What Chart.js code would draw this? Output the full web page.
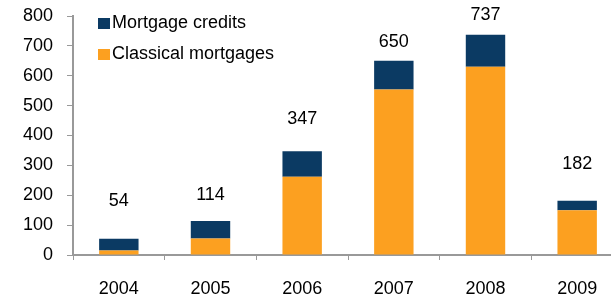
<!DOCTYPE html>
<html>
<head>
<meta charset="utf-8">
<script src="https://cdn.jsdelivr.net/npm/chart.js@4"></script>
<style>
  html, body { margin: 0; padding: 0; background: #fff; overflow: hidden; }
  #wrap { width: 640px; height: 297px; }
</style>
</head>
<body>
<div id="wrap"><canvas id="Volume" width="640" height="297"></canvas></div>
<script>
// data
var years = ['2004', '2005', '2006', '2007', '2008', '2009'];
var classical = [15, 55, 262, 554, 630, 150];
var credits = [39, 59, 85, 96, 107, 32];
var totals = [54, 114, 347, 650, 737, 182];
var yTicks = [0, 100, 200, 300, 400, 500, 600, 700, 800];

var navy = '#0b3a63';
var orange = '#fca020';
var axisGrey = '#999999';
var FONT = '"Liberation Sans", Arial, sans-serif';

// totals over the bars, lifted by hand like in the source
var totalLabels = {
    id: 'totalLabels',
    afterDatasetsDraw: function (chart, args, opts) {
        var ctx = chart.ctx;
        var meta = chart.getDatasetMeta(1);
        ctx.save();
        ctx.font = '18px ' + FONT;
        ctx.fillStyle = '#000';
        ctx.textAlign = 'center';
        ctx.textBaseline = 'middle';
        meta.data.forEach(function (bar, i) {
            ctx.fillText(String(totals[i]), bar.x, bar.y - opts.lift[i]);
        });
        ctx.restore();
    }
};

// legend in the top-left corner of the plot
var cornerLegend = {
    id: 'cornerLegend',
    afterDraw: function (chart) {
        var ctx = chart.ctx;
        var items = [
            { text: 'Mortgage credits', color: navy, y: 23 },
            { text: 'Classical mortgages', color: orange, y: 54 }
        ];
        ctx.save();
        ctx.font = '18px ' + FONT;
        ctx.textBaseline = 'middle';
        items.forEach(function (it) {
            ctx.fillStyle = it.color;
            ctx.fillRect(98, it.y - 5, 12, 11);
            ctx.fillStyle = '#000';
            ctx.fillText(it.text, 112, it.y);
        });
        ctx.restore();
    }
};

var ctx = document.getElementById('Volume').getContext('2d');
var chart = new Chart(ctx, {
    type: 'bar',
    data: {
        labels: years,
        datasets: [{
            label: 'Classical mortgages',
            data: classical,
            backgroundColor: orange
        }, {
            label: 'Mortgage credits',
            data: credits,
            backgroundColor: navy
        }]
    },
    options: {
        responsive: false,
        animation: false,
        maintainAspectRatio: false,
        barPercentage: 0.43,
        categoryPercentage: 1,
        layout: { padding: { top: 16, right: 17, left: 0, bottom: 0 } },
        plugins: {
            legend: { display: false },
            tooltip: { enabled: false },
            totalLabels: { lift: [38, 26, 32, 19, 20, 37] }
        },
        scales: {
            x: {
                stacked: true,
                offset: true,
                grid: { offset: true, drawOnChartArea: false, drawTicks: true, tickLength: 5, color: axisGrey },
                border: { display: true, color: axisGrey, width: 2 },
                ticks: { color: '#000', font: { family: FONT, size: 18 }, padding: 18, maxRotation: 0 },
                afterFit: function (s) {
                    s.height = 42;
                    s.paddingLeft = 0;
                    s.paddingRight = 0;
                }
            },
            y: {
                stacked: true,
                min: 0,
                max: 800,
                afterBuildTicks: function (s) {
                    s.ticks = yTicks.map(function (v) { return { value: v }; });
                },
                grid: { drawOnChartArea: false, drawTicks: true, tickLength: 6, color: axisGrey },
                border: { display: true, color: axisGrey, width: 2 },
                ticks: { color: '#000', font: { family: FONT, size: 18 }, padding: 14 },
                afterFit: function (s) {
                    s.width = 73;
                    s.paddingTop = 0;
                    s.paddingBottom = 0;
                }
            }
        }
    },
    plugins: [totalLabels, cornerLegend]
});
</script>
</body>
</html>
